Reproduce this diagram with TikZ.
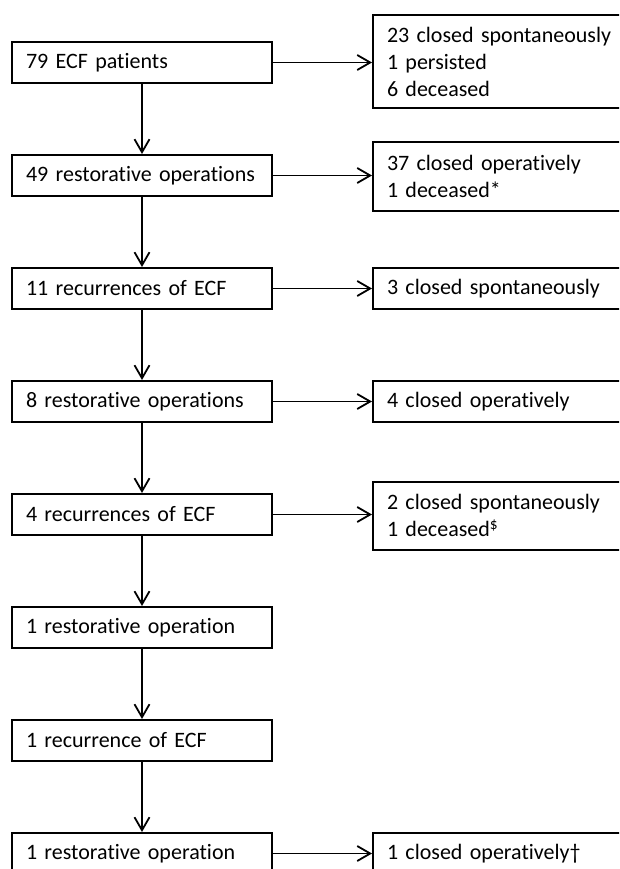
\documentclass[tikz,border=0pt]{standalone}
\usepackage{fontspec}
\setmainfont{Carlito}[RawFeature={-liga;-clig;-calt;-dlig}]
\usetikzlibrary{arrows.meta}

\begin{document}
\begin{tikzpicture}[x=1pt, y=-1pt,
  every node/.style={black, font=\fontsize{22}{27}\selectfont},
  stage/.style={draw, line width=2pt, minimum width=260pt, minimum height=41pt,
    text width=232pt, inner xsep=14pt, align=left},
  outcome/.style={draw, line width=2pt, anchor=west, minimum width=280pt, minimum height=41pt,
    text width=252pt, inner xsep=14pt, align=left},
  flow/.style={-{Straight Barb[length=13pt, width=15pt]}, line width=1.8pt}]
\clip (0,0) rectangle (619,869);

\node[stage] (pat) at (142,62.5) {79 ECF patients};
\node[stage] (op1) at (142,175.5) {49 restorative operations};
\node[stage] (rec1) at (142,288.5) {11 recurrences of ECF};
\node[stage] (op2) at (142,401.5) {8 restorative operations};
\node[stage] (rec2) at (142,514.5) {4 recurrences of ECF};
\node[stage] (op3) at (142,627.5) {1 restorative operation};
\node[stage] (rec3) at (142,740.5) {1 recurrence of ECF};
\node[stage] (op4) at (142,853.5) {1 restorative operation};

\node[outcome, minimum height=93pt] (res1) at (372,61.5) {23 closed spontaneously\\1 persisted\\6 deceased};
\node[outcome, minimum height=68pt] (res2) at (372,176.5) {37 closed operatively\\1 deceased*};
\node[outcome] (res3) at (372,288.5) {3 closed spontaneously};
\node[outcome] (res4) at (372,401.5) {4 closed operatively};
\node[outcome, minimum height=68pt] (res5) at (372,515.5) {2 closed spontaneously\\1 deceased\textsuperscript{\$}};
\node[outcome] (res8) at (372,853.5) {1 closed operatively†};

% down the left column
\draw[flow] (pat) -- (op1);
\draw[flow] (op1) -- (rec1);
\draw[flow] (rec1) -- (op2);
\draw[flow] (op2) -- (rec2);
\draw[flow] (rec2) -- (op3);
\draw[flow] (op3) -- (rec3);
\draw[flow] (rec3) -- (op4);

% out to the outcomes
\draw[flow] (pat.east) -- (pat.east -| res1.west);
\draw[flow] (op1.east) -- (op1.east -| res2.west);
\draw[flow] (rec1.east) -- (rec1.east -| res3.west);
\draw[flow] (op2.east) -- (op2.east -| res4.west);
\draw[flow] (rec2.east) -- (rec2.east -| res5.west);
\draw[flow] (op4.east) -- (op4.east -| res8.west);
\end{tikzpicture}
\end{document}
